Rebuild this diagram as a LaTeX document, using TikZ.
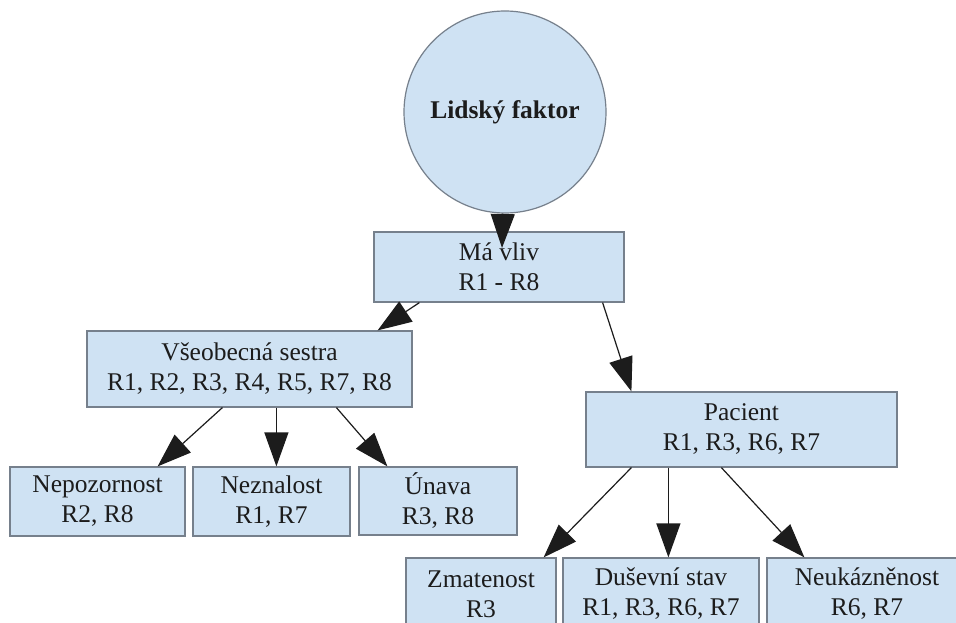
\documentclass[tikz,border=0pt]{standalone}
\usepackage{fontspec}
\setmainfont{Liberation Serif}
\newfontfamily\diagserif{Liberation Serif}
\usetikzlibrary{arrows.meta,calc}
\definecolor{boxfill}{HTML}{CFE2F3}
\definecolor{boxline}{HTML}{76808C}
\definecolor{inkc}{HTML}{1C1C1C}
\begin{document}
\begin{tikzpicture}[x=1pt,y=-1pt,
  box/.style={rectangle, draw=boxline, line width=1.2pt, fill=boxfill,
    text=inkc, align=center, inner sep=0pt,
    font=\diagserif\fontsize{25.5}{30}\selectfont},
  rootnode/.style={circle, draw=boxline, line width=1.2pt, fill=boxfill,
    text=inkc, inner sep=0pt, minimum size=202pt,
    font=\diagserif\bfseries\fontsize{25.5}{30}\selectfont},
  edge/.style={draw=inkc, line width=1.2pt,
    -{Triangle[length=34pt,width=24pt]}}]

% page frame
\useasboundingbox (0,0) rectangle (956,623);
\fill[white] (0,0) rectangle (956,623);
\clip (0,0) rectangle (956,623);

% root
\node[rootnode] (human) at (505,112) {Lidský faktor};

% second level
\node[box, minimum width=250pt, minimum height=70pt] (mavliv) at (499,267) {Má vliv\\R1 - R8};

% third level
\node[box, minimum width=325pt, minimum height=76pt] (sestra) at (249.5,369) {Všeobecná sestra\\R1, R2, R3, R4, R5, R7, R8};
\node[box, minimum width=311pt, minimum height=75pt] (pacient) at (741.5,429.5) {Pacient\\R1, R3, R6, R7};

% leaves under the nurse
\node[box, minimum width=175pt, minimum height=69pt] (nepoz) at (97.5,501.5) {Nepozornost\\R2, R8};
\node[box, minimum width=157pt, minimum height=69pt] (nezn) at (271.5,501.5) {Neznalost\\R1, R7};
\node[box, minimum width=158pt, minimum height=68pt] (unava) at (438,501) {Únava\\R3, R8};

% leaves under the patient
\node[box, minimum width=150pt, minimum height=72pt] (zmat) at (481,594) {Zmatenost\\R3};
\node[box, minimum width=196pt, minimum height=72pt] (dusev) at (661,594) {Duševní stav\\R1, R3, R6, R7};
\node[box, minimum width=200pt, minimum height=72pt] (neuk) at (867,594) {Neukázněnost\\R6, R7};

% connectors
\coordinate (rootTip) at (502,248);
\draw[edge] (human) -- (rootTip);

\draw[edge] ([xshift=46pt]mavliv.south west) -- ([xshift=-35pt]sestra.north east);
\draw[edge] ([xshift=-22pt]mavliv.south east) -- ([xshift=46pt]pacient.north west);

\draw[edge] ([xshift=136pt]sestra.south west) -- ([xshift=-28pt]nepoz.north east);
\draw[edge] ([xshift=190pt]sestra.south west) -- ([xshift=84pt]nezn.north west);
\draw[edge] ([xshift=250pt]sestra.south west) -- ([xshift=29pt]unava.north west);

\draw[edge] ([xshift=46pt]pacient.south west) -- ([xshift=-13pt]zmat.north east);
\draw[edge] ([xshift=83pt]pacient.south west) -- ([xshift=106pt]dusev.north west);
\draw[edge] ([xshift=136pt]pacient.south west) -- ([xshift=38pt]neuk.north west);
\end{tikzpicture}
\end{document}
